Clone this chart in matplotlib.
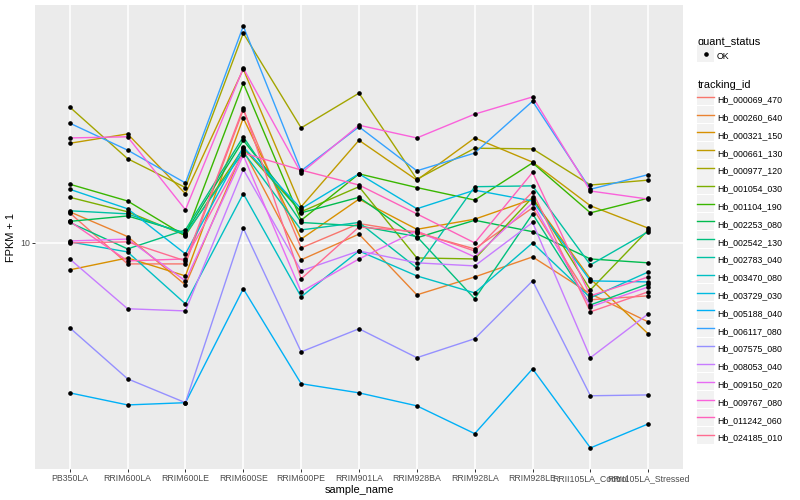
import numpy as np
import matplotlib
matplotlib.use('Agg')
import matplotlib.pyplot as plt
from matplotlib.lines import Line2D
from matplotlib.patches import Rectangle
from matplotlib.legend_handler import HandlerLine2D

plt.rcParams['font.family'] = ['Liberation Sans', 'DejaVu Sans']

samples = ['PB350LA', 'RRIM600LA', 'RRIM600LE', 'RRIM600SE', 'RRIM600PE', 'RRIM901LA',
           'RRIM928BA', 'RRIM928LA', 'RRIM928LE', 'RRII105LA_Control', 'RRII105LA_Stressed']

tracking_ids = ['Hb_000069_470', 'Hb_000260_640', 'Hb_000321_150', 'Hb_000661_130', 'Hb_000977_120',
                'Hb_001054_030', 'Hb_001104_190', 'Hb_002253_080', 'Hb_002542_130', 'Hb_002783_040',
                'Hb_003470_080', 'Hb_003729_030', 'Hb_005188_040', 'Hb_006117_080', 'Hb_007575_080',
                'Hb_008053_040', 'Hb_009150_020', 'Hb_009767_080', 'Hb_011242_060', 'Hb_024185_010']

# FPKM + 1 per sample
hb_000069_470 = [12.6, 8.51, 8.51, 27.8, 9.62, 11.6, 10.8, 9.55, 13.1, 6.46, 6.66]
hb_000260_640 = [12.7, 10.5, 7.24, 20.4, 8.78, 10.7, 6.71, 7.70, 8.98, 6.76, 5.45]
hb_000321_150 = [8.13, 8.91, 7.76, 26.1, 10.3, 14.0, 11.1, 12.0, 14.0, 7.59, 4.97]
hb_000661_130 = [21.5, 23.1, 14.6, 38.0, 13.2, 22.0, 16.2, 22.4, 18.6, 13.3, 11.2]
hb_000977_120 = [28.4, 19.1, 15.3, 50.1, 24.2, 31.6, 16.3, 20.7, 20.6, 15.6, 16.2]
hb_001054_030 = [14.2, 12.7, 10.6, 20.7, 12.7, 15.4, 8.91, 8.84, 14.2, 6.97, 11.05]
hb_001104_190 = [15.7, 13.8, 10.55, 34.1, 11.9, 17.0, 15.3, 13.9, 18.5, 12.6, 14.1]
hb_002253_080 = [11.8, 12.3, 10.8, 22.0, 12.6, 14.2, 10.4, 11.9, 10.9, 8.84, 8.58]
hb_002542_130 = [11.7, 9.55, 11.05, 22.6, 11.7, 11.4, 10.5, 6.51, 12.5, 6.21, 7.30]
hb_002783_040 = [12.8, 12.5, 10.7, 20.1, 11.05, 11.7, 8.25, 15.4, 15.5, 8.45, 10.9]
hb_003470_080 = [10.08, 9.33, 6.26, 14.6, 6.61, 9.40, 7.76, 6.81, 10.0, 6.56, 8.00]
hb_003729_030 = [15.1, 13.0, 9.19, 20.9, 13.0, 17.0, 13.0, 15.0, 13.8, 7.47, 7.41]
hb_005188_040 = [3.16, 2.88, 2.93, 7.03, 3.39, 3.16, 2.86, 2.31, 3.80, 2.07, 2.49]
hb_006117_080 = [25.1, 20.4, 15.85, 52.9, 17.4, 24.4, 17.4, 19.95, 29.7, 15.1, 16.9]
hb_007575_080 = [5.21, 3.52, 2.93, 11.2, 4.33, 5.17, 4.14, 4.79, 7.47, 3.09, 3.11]
hb_008053_040 = [8.84, 6.03, 5.93, 17.6, 8.07, 9.40, 8.58, 8.38, 11.7, 4.14, 5.80]
hb_009150_020 = [10.15, 10.3, 7.47, 19.6, 6.87, 8.84, 10.97, 8.98, 13.6, 6.12, 7.13]
hb_009767_080 = [22.4, 22.6, 12.9, 38.3, 17.1, 24.7, 22.4, 26.9, 30.7, 14.9, 14.0]
hb_011242_060 = [11.8, 8.71, 8.84, 19.95, 17.5, 15.6, 12.5, 10.0, 17.2, 6.66, 7.70]
hb_024185_010 = [10.0, 10.08, 8.71, 28.2, 7.59, 11.3, 10.9, 9.40, 14.8, 5.89, 6.87]

series = [hb_000069_470, hb_000260_640, hb_000321_150, hb_000661_130, hb_000977_120,
          hb_001054_030, hb_001104_190, hb_002253_080, hb_002542_130, hb_002783_040,
          hb_003470_080, hb_003729_030, hb_005188_040, hb_006117_080, hb_007575_080,
          hb_008053_040, hb_009150_020, hb_009767_080, hb_011242_060, hb_024185_010]

# ggplot default hue palette for 20 levels
colors = ['#F8766D', '#EA8331', '#D89000', '#C09B00', '#A3A500', '#7CAE00', '#39B600', '#00BB4E',
          '#00BF7D', '#00C1A3', '#00BFC4', '#00BAE0', '#00B0F6', '#35A2FF', '#9590FF', '#C77CFF',
          '#E76BF3', '#FA62DB', '#FF62BC', '#FF6C91']


class KeyBg(HandlerLine2D):
    # grey key box like ggplot, centred on the key line
    def create_artists(self, legend, orig_handle, xdescent, ydescent, width, height, fontsize, trans):
        yc = (height - ydescent) / 2.0
        bg = Rectangle((-xdescent, yc - 6.1), width, 12.2, facecolor='#F2F2F2',
                       edgecolor='none', transform=trans)
        arts = super().create_artists(legend, orig_handle, xdescent, ydescent, width, height, fontsize, trans)
        return [bg] + arts


fig = plt.figure(figsize=(8, 5), dpi=100)
ax = fig.add_axes([35 / 800, 1 - 469 / 500, 648 / 800, 464 / 500])
ax.set_facecolor('#EBEBEB')

x = np.arange(len(samples))
for vals, col in zip(series, colors):
    ax.plot(x, vals, color=col, lw=1.0, zorder=2)
for vals in series:
    ax.plot(x, vals, ls='none', marker='o', ms=2.3, color='black', zorder=3)

ax.set_yscale('log')
all_vals = np.concatenate([np.array(s) for s in series])
lo, hi = np.log10(all_vals.min()), np.log10(all_vals.max())
pad = 0.05 * (hi - lo)
ax.set_ylim(10 ** (lo - pad), 10 ** (hi + pad))
ax.set_xlim(-0.6, len(samples) - 0.4)

ax.set_yticks([10])
ax.set_yticklabels(['10'])
ax.yaxis.set_minor_locator(matplotlib.ticker.NullLocator())
ax.set_xticks(x)
ax.set_xticklabels(samples)
ax.tick_params(axis='both', length=2.2, width=0.7, color='#333333', labelcolor='#4D4D4D',
               labelsize=6.3, pad=1.5)

ax.grid(True, color='white', lw=1.1)
ax.set_axisbelow(True)
for sp in ax.spines.values():
    sp.set_visible(False)

ax.set_xlabel('sample_name', fontsize=7.9, labelpad=1)
ax.set_ylabel('FPKM + 1', fontsize=7.9, labelpad=3)

# legends
h_ok = Line2D([], [], ls='none', marker='o', ms=2.3, color='black')
leg1 = fig.legend([h_ok], ['OK'], title='quant_status', loc='upper left',
                  bbox_to_anchor=(693 / 800, 1 - 33 / 500), frameon=False, fontsize=6.3,
                  title_fontsize=7.9, borderpad=0, handlelength=1.95, handleheight=2.6,
                  handletextpad=0.3, labelspacing=0.1, numpoints=1, alignment='left',
                  handler_map={Line2D: KeyBg()})

line_handles = [Line2D([], [], color=c, lw=1.0) for c in colors]
leg2 = fig.legend(line_handles, tracking_ids, title='tracking_id', loc='upper left',
                  bbox_to_anchor=(693 / 800, 1 - 76 / 500), frameon=False, fontsize=6.3,
                  title_fontsize=7.9, borderpad=0, handlelength=1.95, handleheight=2.6,
                  handletextpad=0.3, labelspacing=0.1, numpoints=1, alignment='left',
                  handler_map={Line2D: KeyBg()})

fig.savefig('out.png', dpi=100)
